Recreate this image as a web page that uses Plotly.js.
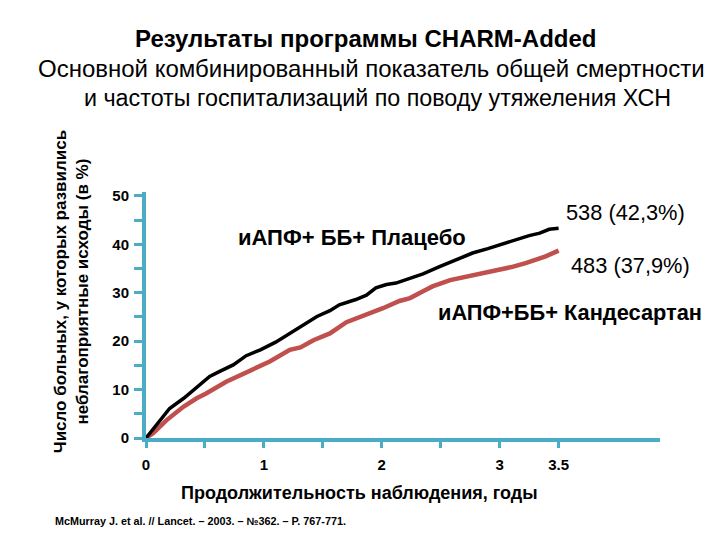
<!DOCTYPE html>
<html><head><meta charset="utf-8">
<script src="https://cdn.plot.ly/plotly-3.0.1.min.js"></script>
<style>body{margin:0;background:#fff}#chart{width:720px;height:540px}</style>
</head><body><div id="chart"></div>
<script>
// Placebo (black)
const placeboYears = [0, 0.034, 0.12, 0.2, 0.32, 0.43, 0.54, 0.63, 0.74, 0.85, 0.97, 1.1, 1.22, 1.31, 1.45, 1.56, 1.64, 1.78, 1.87, 1.95, 2.04, 2.12, 2.25, 2.35, 2.49, 2.63, 2.77, 2.9, 3.0, 3.14, 3.25, 3.34, 3.42, 3.5];
const placeboPct   = [0, 1.0, 3.7, 6.1, 8.2, 10.5, 12.7, 13.8, 15.1, 17.0, 18.2, 19.8, 21.6, 23.0, 25.1, 26.3, 27.5, 28.6, 29.5, 31.0, 31.7, 32.0, 33.0, 33.9, 35.4, 36.8, 38.2, 39.1, 39.9, 41.0, 41.8, 42.3, 43.1, 43.3];
// Candesartan (red)
const candYears = [0, 0.06, 0.175, 0.32, 0.43, 0.51, 0.68, 0.8, 0.94, 1.05, 1.22, 1.31, 1.42, 1.56, 1.70, 1.85, 2.01, 2.15, 2.24, 2.35, 2.43, 2.58, 2.7, 2.8, 3.0, 3.1, 3.22, 3.39, 3.5];
const candPct   = [0, 1.0, 3.7, 6.5, 8.2, 9.2, 11.6, 13.0, 14.7, 15.8, 18.2, 18.7, 20.2, 21.6, 23.9, 25.2, 26.8, 28.3, 28.9, 30.3, 31.3, 32.6, 33.2, 33.7, 34.7, 35.3, 36.1, 37.5, 38.7];

const xTickVals = [0, 0.5, 1, 1.5, 2, 2.5, 3, 3.5];
const xTickText = ['0', '', '1', '', '2', '', '3', '3.5'];
const yTickVals = [0, 5, 10, 15, 20, 25, 30, 35, 40, 45, 50];
const yTickText = ['0', '', '10', '', '20', '', '30', '', '40', '', '50'];

const titleLines = [
  '<b>Результаты программы CHARM-Added</b>',
  'Основной комбинированный показатель общей смертности',
  'и частоты госпитализаций по поводу утяжеления ХСН'
];

const teal = 'rgb(75,172,198)';
const F = 'Liberation Sans, Arial, sans-serif';

const traces = [
  {x: candYears, y: candPct, mode: 'lines', line: {color: 'rgb(192,80,77)', width: 4.5}, hoverinfo: 'skip'},
  {x: placeboYears, y: placeboPct, mode: 'lines', line: {color: '#000', width: 3.5}, hoverinfo: 'skip'}
];

function ann(text, x, y, size, xanchor, extra) {
  return Object.assign({text: text, xref: 'paper', yref: 'paper', x: x, y: y,
    xanchor: xanchor || 'center', yanchor: 'middle', showarrow: false,
    font: {family: F, size: size, color: '#000'}}, extra || {});
}

const layout = {
  width: 720, height: 540,
  margin: {l: 146, r: 60, t: 192, b: 102},
  paper_bgcolor: '#fff', plot_bgcolor: '#fff',
  showlegend: false,
  font: {family: F, color: '#000'},
  xaxis: {
    range: [0, 4.36], showgrid: false, zeroline: false,
    showline: true, linecolor: teal, linewidth: 4,
    tickmode: 'array', tickvals: xTickVals, ticktext: xTickText,
    ticks: 'outside', ticklen: 6, tickwidth: 3, tickcolor: teal,
    tickfont: {family: F, size: 15, color: '#000', weight: 'bold'},
    ticklabelstandoff: 4
  },
  yaxis: {
    range: [0, 50.8], showgrid: false, zeroline: false,
    showline: true, linecolor: teal, linewidth: 4,
    tickmode: 'array', tickvals: yTickVals, ticktext: yTickText,
    ticks: 'outside', ticklen: 8, tickwidth: 3, tickcolor: teal,
    tickfont: {family: F, size: 15, color: '#000', weight: 'bold'},
    ticklabelstandoff: 2
  },
  annotations: [
    ann(titleLines[0], 0.428, 1.622, 24),
    ann(titleLines[1], 0.439, 1.504, 24),
    ann(titleLines[2], 0.45, 1.382, 23.3),
    ann('<b>Продолжительность наблюдения, годы</b>', 0.416, -0.2236, 18),
    ann('<b>Число больных, у которых развились<br>неблагоприятные исходы (в %)</b>', -0.1446, 0.595, 17, 'center', {textangle: -90}),
    ann('<b>иАПФ+ ББ+ Плацебо</b>', 0.175, 0.817, 22, 'left'),
    ann('<b>иАПФ+ББ+ Кандесартан</b>', 0.564, 0.512, 21.8, 'left'),
    ann('538 (42,3%)', 0.813, 0.915, 21.8, 'left'),
    ann('483 (37,9%)', 0.823, 0.703, 21.8, 'left'),
    ann('<b>McMurray J. et al. // Lancet. – 2003. – №362. – P. 767-771.</b>', -0.181, -0.338, 10.8, 'left')
  ]
};

Plotly.newPlot('chart', traces, layout, {displayModeBar: false, staticPlot: true});
</script>
</body></html>
